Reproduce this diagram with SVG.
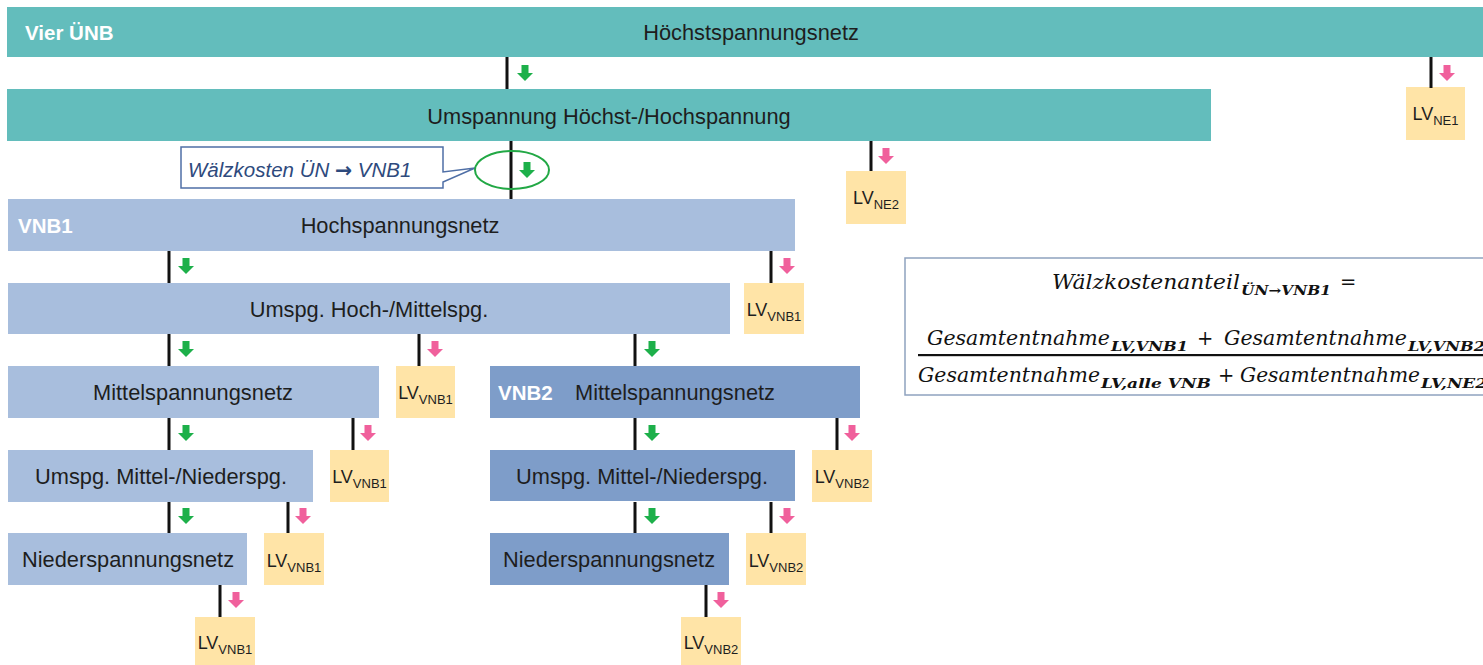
<svg xmlns="http://www.w3.org/2000/svg" xmlns:xlink="http://www.w3.org/1999/xlink" width="1483" height="665" viewBox="0 0 1483 665">
<style>
.teal{fill:#63BDBC}
.lb{fill:#A8BEDD}
.db{fill:#7E9DC9}
.lv{fill:#FFE4A7}
.t{font-family:"Liberation Sans",Arial,sans-serif;font-size:21.8px;fill:#1E1E1E}
.tw{font-family:"Liberation Sans",Arial,sans-serif;font-size:20.5px;font-weight:bold;fill:#FFFFFF}
.lvt{font-family:"Liberation Sans",Arial,sans-serif;font-size:18px;fill:#1E1E1E}
.sub{font-size:13px}
.ln{stroke:#111;stroke-width:3;fill:none}
.g{fill:#1DB04A}
.p{fill:#F0609C}
.f{font-family:"DejaVu Serif",serif;font-style:italic;font-size:19.5px;fill:#111}
.fs{font-family:"DejaVu Serif",serif;font-style:italic;font-weight:bold;font-size:12.5px;fill:#111}
</style>
<defs>
<path id="arr" d="M-3.5,0 h7 v8 h4.5 l-8,8 l-8,-8 h4.5 z"/>
</defs>
<rect width="1483" height="665" fill="#FFFFFF"/>

<g id="hoechstspannungsnetz">
<rect class="teal" x="7" y="7" width="1480" height="50"/>
<text class="tw" x="25" y="40">Vier ÜNB</text>
<text class="t" x="751" y="40" text-anchor="middle">Höchstspannungsnetz</text>
</g>
<g id="umspannung-hoechst-hoch">
<rect class="teal" x="7" y="89" width="1204" height="52"/>
<text class="t" x="609" y="124" text-anchor="middle">Umspannung Höchst-/Hochspannung</text>
</g>
<g id="vnb1-hochspannungsnetz">
<rect class="lb" x="8" y="199" width="787" height="52"/>
<text class="tw" x="18" y="233">VNB1</text>
<text class="t" x="400" y="233" text-anchor="middle">Hochspannungsnetz</text>
</g>
<g id="vnb1-umspg-hoch-mittel">
<rect class="lb" x="8" y="283" width="722" height="51"/>
<text class="t" x="369" y="317" text-anchor="middle">Umspg. Hoch-/Mittelspg.</text>
</g>
<g id="vnb1-mittelspannungsnetz">
<rect class="lb" x="8" y="366" width="371" height="52"/>
<text class="t" x="193" y="400" text-anchor="middle">Mittelspannungsnetz</text>
</g>
<g id="vnb2-mittelspannungsnetz">
<rect class="db" x="490" y="366" width="370" height="52"/>
<text class="tw" x="498" y="400">VNB2</text>
<text class="t" x="675" y="400" text-anchor="middle">Mittelspannungsnetz</text>
</g>
<g id="vnb1-umspg-mittel-nieder">
<rect class="lb" x="8" y="450" width="305" height="52"/>
<text class="t" x="161" y="484" text-anchor="middle">Umspg. Mittel-/Niederspg.</text>
</g>
<g id="vnb2-umspg-mittel-nieder">
<rect class="db" x="490" y="450" width="305" height="51"/>
<text class="t" x="642" y="484" text-anchor="middle">Umspg. Mittel-/Niederspg.</text>
</g>
<g id="vnb1-niederspannungsnetz">
<rect class="lb" x="8" y="533" width="239" height="52"/>
<text class="t" x="128" y="567" text-anchor="middle">Niederspannungsnetz</text>
</g>
<g id="vnb2-niederspannungsnetz">
<rect class="db" x="490" y="533" width="239" height="52"/>
<text class="t" x="609" y="567" text-anchor="middle">Niederspannungsnetz</text>
</g>

<g id="lv-ne1"><rect class="lv" x="1406" y="87" width="59" height="53"/><text class="lvt" x="1435.5" y="120" text-anchor="middle">LV<tspan class="sub" dy="5">NE1</tspan></text></g>
<g id="lv-ne2"><rect class="lv" x="846" y="171" width="60" height="53"/><text class="lvt" x="876" y="204" text-anchor="middle">LV<tspan class="sub" dy="5">NE2</tspan></text></g>
<g id="lv-vnb1-a"><rect class="lv" x="744" y="283" width="60" height="51"/><text class="lvt" x="774" y="316" text-anchor="middle">LV<tspan class="sub" dy="5">VNB1</tspan></text></g>
<g id="lv-vnb1-b"><rect class="lv" x="396" y="366" width="59" height="52"/><text class="lvt" x="425.5" y="399" text-anchor="middle">LV<tspan class="sub" dy="5">VNB1</tspan></text></g>
<g id="lv-vnb1-c"><rect class="lv" x="330" y="450" width="59" height="52"/><text class="lvt" x="359.5" y="483" text-anchor="middle">LV<tspan class="sub" dy="5">VNB1</tspan></text></g>
<g id="lv-vnb2-a"><rect class="lv" x="812" y="450" width="60" height="52"/><text class="lvt" x="842" y="483" text-anchor="middle">LV<tspan class="sub" dy="5">VNB2</tspan></text></g>
<g id="lv-vnb1-d"><rect class="lv" x="264" y="533" width="60" height="52"/><text class="lvt" x="294" y="567" text-anchor="middle">LV<tspan class="sub" dy="5">VNB1</tspan></text></g>
<g id="lv-vnb2-b"><rect class="lv" x="746" y="533" width="60" height="52"/><text class="lvt" x="776" y="567" text-anchor="middle">LV<tspan class="sub" dy="5">VNB2</tspan></text></g>
<g id="lv-vnb1-e"><rect class="lv" x="195" y="617" width="60" height="48"/><text class="lvt" x="225" y="649" text-anchor="middle">LV<tspan class="sub" dy="5">VNB1</tspan></text></g>
<g id="lv-vnb2-c"><rect class="lv" x="681" y="617" width="60" height="48"/><text class="lvt" x="711" y="649" text-anchor="middle">LV<tspan class="sub" dy="5">VNB2</tspan></text></g>

<g id="connectors">
<path class="ln" d="M507,57V89 M1431,57V88 M511,141V199 M871,141V171 M169,251V283 M771,251V283 M169,334V366 M419,334V366 M635,334V366 M169,418V450 M353,418V450 M635,418V450 M837,418V450 M169,502V533 M288,502V533 M635,502V533 M771,502V533 M220,585V617 M706,585V617"/>
<use xlink:href="#arr" class="g" x="525" y="65"/>
<use xlink:href="#arr" class="p" x="1447" y="65"/>
<use xlink:href="#arr" class="g" x="527" y="162"/>
<use xlink:href="#arr" class="p" x="886" y="148"/>
<use xlink:href="#arr" class="g" x="186" y="258"/>
<use xlink:href="#arr" class="p" x="787" y="258"/>
<use xlink:href="#arr" class="g" x="186" y="341"/>
<use xlink:href="#arr" class="p" x="435" y="341"/>
<use xlink:href="#arr" class="g" x="652" y="341"/>
<use xlink:href="#arr" class="g" x="186" y="425"/>
<use xlink:href="#arr" class="p" x="368" y="425"/>
<use xlink:href="#arr" class="g" x="652" y="425"/>
<use xlink:href="#arr" class="p" x="852" y="425"/>
<use xlink:href="#arr" class="g" x="186" y="508"/>
<use xlink:href="#arr" class="p" x="303" y="508"/>
<use xlink:href="#arr" class="g" x="652" y="508"/>
<use xlink:href="#arr" class="p" x="787" y="508"/>
<use xlink:href="#arr" class="p" x="236" y="592"/>
<use xlink:href="#arr" class="p" x="721" y="592"/>
</g>

<g id="callout">
<path d="M181,147 H443 V172 L475,168 L443,182 V188 H181 Z" fill="#FFFFFF" stroke="#4F6FA6" stroke-width="1.5"/>
<text x="188" y="177" font-family="Liberation Sans,Arial,sans-serif" font-style="italic" font-size="20.5" fill="#2E4A7D">Wälzkosten ÜN <tspan font-family="DejaVu Sans,sans-serif" font-style="normal" font-weight="bold">→</tspan> VNB1</text>
<ellipse cx="512" cy="170" rx="37" ry="19" fill="none" stroke="#22A845" stroke-width="2"/>
</g>

<g id="formula">
<rect x="905" y="258" width="600" height="137" fill="#FFFFFF" stroke="#8FA2BF" stroke-width="1.5"/>
<text class="f" x="1052" y="289" textLength="188" lengthAdjust="spacingAndGlyphs">Wälzkostenanteil</text>
<text class="fs" x="1241" y="295" textLength="90" lengthAdjust="spacingAndGlyphs">ÜN→VNB1</text>
<text class="f" x="1340" y="289">=</text>
<text class="f" x="927" y="345" textLength="183" lengthAdjust="spacingAndGlyphs">Gesamtentnahme</text>
<text class="fs" x="1111" y="351" textLength="77" lengthAdjust="spacingAndGlyphs">LV,VNB1</text>
<text class="f" x="1197" y="345">+</text>
<text class="f" x="1224" y="345" textLength="183" lengthAdjust="spacingAndGlyphs">Gesamtentnahme</text>
<text class="fs" x="1408" y="351" textLength="77" lengthAdjust="spacingAndGlyphs">LV,VNB2</text>
<rect x="918" y="354" width="570" height="2.2" fill="#111"/>
<text class="f" x="918" y="382" textLength="182" lengthAdjust="spacingAndGlyphs">Gesamtentnahme</text>
<text class="fs" x="1101" y="388" textLength="110" lengthAdjust="spacingAndGlyphs">LV,alle VNB</text>
<text class="f" x="1218" y="382">+</text>
<text class="f" x="1240" y="382" textLength="180" lengthAdjust="spacingAndGlyphs">Gesamtentnahme</text>
<text class="fs" x="1421" y="388" textLength="66" lengthAdjust="spacingAndGlyphs">LV,NE2</text>
</g>
</svg>
